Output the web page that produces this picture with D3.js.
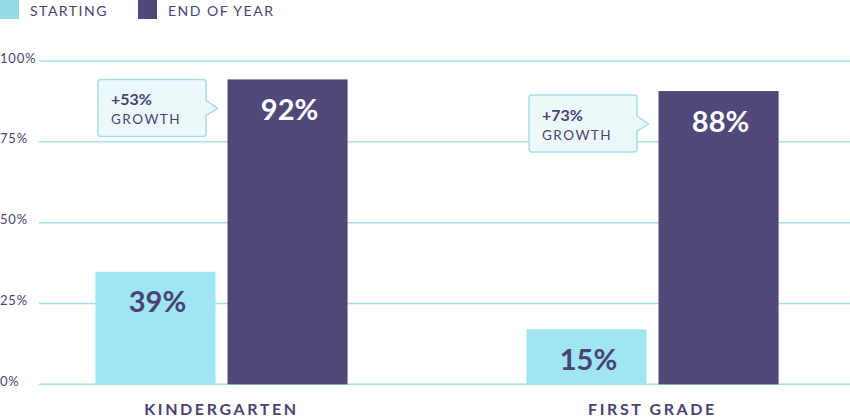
<!DOCTYPE html>
<html>
<head>
<meta charset="utf-8">
<script src="https://cdn.jsdelivr.net/npm/d3@7"></script>
<style>
  body { margin: 0; background: #fff; }
  svg { display: block; font-family: Lato, "Noto Sans", sans-serif; }
</style>
</head>
<body>
<svg id="chart"></svg>
<script>
// data (bar heights as drawn, labels as printed)
const grades = ['KINDERGARTEN', 'FIRST GRADE'];
const seriesKeys = ['start', 'end'];
const seriesNames = ['STARTING', 'END OF YEAR'];
const startValues = [34.8, 17.0];
const endValues = [94.3, 90.7];
const startLabels = ['39%', '15%'];
const endLabels = ['92%', '88%'];
const growthLabels = ['+53%', '+73%'];
const yTicks = [0, 25, 50, 75, 100];

const width = 850, height = 417;
const textColor = '#4a4373';
const colors = { start: '#9fe5f3', end: '#504878' };
const legendColors = { start: '#95dae8', end: '#504878' };
const gridColor = '#a6e0ea';

const svg = d3.select('#chart')
  .attr('width', width)
  .attr('height', height);

const y = d3.scaleLinear().domain([0, 100]).range([384.3, 61]);

const x0 = d3.scaleBand()
  .domain(grades)
  .range([6, 868])
  .paddingInner(0.415)
  .paddingOuter(0.2075);

const x1 = d3.scaleBand()
  .domain(seriesKeys)
  .range([0, x0.bandwidth()])
  .paddingInner(0.091);

// gridlines + tick labels
const grid = svg.append('g');
grid.selectAll('line')
  .data(yTicks)
  .enter()
  .append('line')
  .attr('x1', 39)
  .attr('x2', width)
  .attr('y1', d => y(d))
  .attr('y2', d => y(d))
  .attr('stroke', gridColor)
  .attr('stroke-width', 1.5);

grid.selectAll('text')
  .data(yTicks)
  .enter()
  .append('text')
  .attr('x', 0)
  .attr('y', d => y(d) + 1.5)
  .attr('fill', textColor)
  .attr('font-size', 13)
  .attr('letter-spacing', 0.8)
  .text(d => d + '%');

// bars
const rows = grades.map((g, i) => ({
  grade: g,
  bars: [
    { key: 'start', value: startValues[i], label: startLabels[i] },
    { key: 'end', value: endValues[i], label: endLabels[i] }
  ],
  growth: growthLabels[i]
}));

const groups = svg.selectAll('.group')
  .data(rows)
  .enter()
  .append('g')
  .attr('class', 'group')
  .attr('transform', d => `translate(${x0(d.grade)},0)`);

groups.selectAll('rect')
  .data(d => d.bars)
  .enter()
  .append('rect')
  .attr('x', d => x1(d.key))
  .attr('y', d => y(d.value))
  .attr('width', x1.bandwidth())
  .attr('height', d => y(0) - y(d.value))
  .attr('fill', d => colors[d.key]);

groups.selectAll('.val')
  .data(d => d.bars)
  .enter()
  .append('text')
  .attr('class', 'val')
  .attr('x', d => x1(d.key) + x1.bandwidth() / 2 + 2)
  .attr('y', d => y(d.value) + 40.5)
  .attr('text-anchor', 'middle')
  .attr('font-size', 29)
  .attr('font-weight', 'bold')
  .attr('fill', d => d.key === 'end' ? '#fff' : textColor)
  .text(d => d.label);

// category labels
groups.append('text')
  .attr('x', x0.bandwidth() / 2)
  .attr('y', 415)
  .attr('text-anchor', 'middle')
  .attr('font-size', 16)
  .attr('font-weight', 'bold')
  .attr('letter-spacing', 2.6)
  .attr('fill', textColor)
  .text(d => d.grade);

// growth callouts, pointing at the end-of-year bar
const boxW = 108, boxH = 57, r = 3;
groups.each(function (d, i) {
  const g = d3.select(this);
  const endX = x1('end');
  const right = endX - 21.5;
  const left = right - boxW;
  const top = y(endValues[i]) + (i === 0 ? 0 : 4);
  const bottom = top + boxH;
  const tipY = top + 29;
  const p = d3.path();
  p.moveTo(left + r, top);
  p.lineTo(right - r, top);
  p.arcTo(right, top, right, top + r, r);
  p.lineTo(right, tipY - 8);
  p.lineTo(endX - 10, tipY);
  p.lineTo(right, tipY + 7);
  p.lineTo(right, bottom - r);
  p.arcTo(right, bottom, right - r, bottom, r);
  p.lineTo(left + r, bottom);
  p.arcTo(left, bottom, left, bottom - r, r);
  p.lineTo(left, top + r);
  p.arcTo(left, top, left + r, top, r);
  p.closePath();
  g.append('path')
    .attr('d', p.toString())
    .attr('fill', '#edf8fb')
    .attr('stroke', '#a6dfe9')
    .attr('stroke-width', 1.5);
  g.append('text')
    .attr('x', left + 13)
    .attr('y', top + 26)
    .attr('font-size', 16)
    .attr('font-weight', 'bold')
    .attr('fill', textColor)
    .text(d.growth);
  g.append('text')
    .attr('x', left + 13)
    .attr('y', top + 44.5)
    .attr('font-size', 13.5)
    .attr('letter-spacing', 1.5)
    .attr('fill', textColor)
    .text('GROWTH');
});

// legend
const legend = svg.append('g');
const legendX = [0, 138];
seriesKeys.forEach((k, i) => {
  legend.append('rect')
    .attr('x', legendX[i])
    .attr('y', 0)
    .attr('width', 19)
    .attr('height', 19)
    .attr('fill', legendColors[k]);
  legend.append('text')
    .attr('x', legendX[i] + 30)
    .attr('y', 15.5)
    .attr('font-size', 14)
    .attr('letter-spacing', 1.5)
    .attr('fill', textColor)
    .text(seriesNames[i]);
});
</script>
</body>
</html>
